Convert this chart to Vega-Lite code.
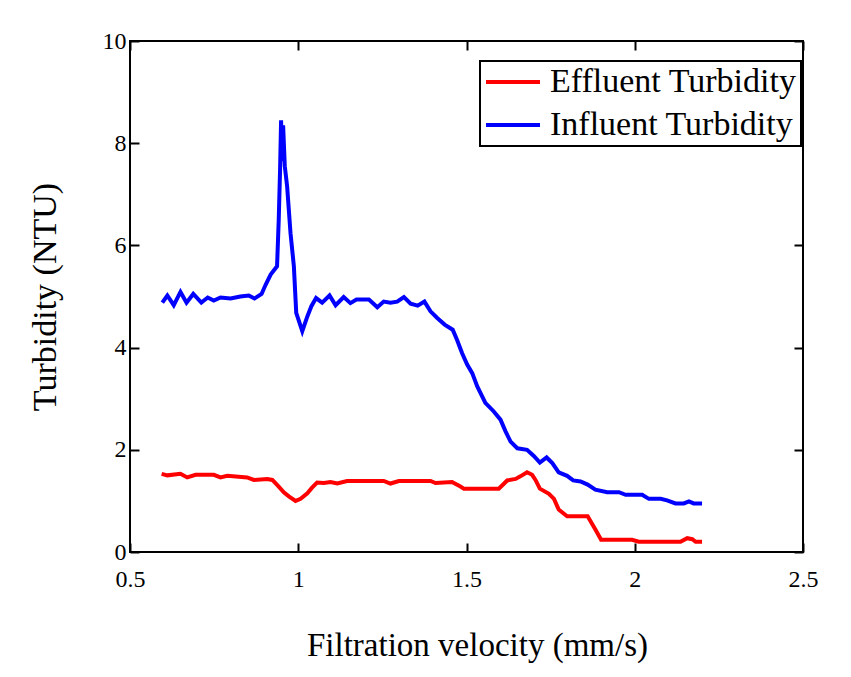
{
  "$schema": "https://vega.github.io/schema/vega-lite/v6.json",
  "width": 673,
  "height": 511,
  "autosize": {"type": "none"},
  "padding": {"left": 130, "top": 41, "right": 48, "bottom": 125},
  "background": "white",
  "config": {
    "view": {"stroke": "#000", "strokeWidth": 2},
    "font": "Liberation Serif",
    "axis": {
      "domain": false,
      "grid": false,
      "ticks": true,
      "tickSize": 9,
      "offset": -9,
      "tickColor": "#000",
      "tickWidth": 2,
      "labelFlush": false,
      "labelFont": "Liberation Serif",
      "labelFontSize": 24,
      "labelColor": "#000",
      "titleFont": "Liberation Serif",
      "titleFontSize": 34,
      "titleFontWeight": "normal",
      "titleColor": "#000"
    },
    "legend": {
      "strokeColor": "#000",
      "strokeWidth": 2,
      "fillColor": "white"
    }
  },
  "data": {
    "values": [
      {"s": "Influent Turbidity", "v": 0.596, "t": 4.88},
      {"s": "Influent Turbidity", "v": 0.611, "t": 5.02},
      {"s": "Influent Turbidity", "v": 0.630, "t": 4.83},
      {"s": "Influent Turbidity", "v": 0.650, "t": 5.09},
      {"s": "Influent Turbidity", "v": 0.668, "t": 4.88},
      {"s": "Influent Turbidity", "v": 0.688, "t": 5.05},
      {"s": "Influent Turbidity", "v": 0.712, "t": 4.88},
      {"s": "Influent Turbidity", "v": 0.731, "t": 4.98},
      {"s": "Influent Turbidity", "v": 0.749, "t": 4.92},
      {"s": "Influent Turbidity", "v": 0.769, "t": 4.98},
      {"s": "Influent Turbidity", "v": 0.799, "t": 4.96},
      {"s": "Influent Turbidity", "v": 0.828, "t": 5.00},
      {"s": "Influent Turbidity", "v": 0.853, "t": 5.02},
      {"s": "Influent Turbidity", "v": 0.870, "t": 4.96},
      {"s": "Influent Turbidity", "v": 0.891, "t": 5.05},
      {"s": "Influent Turbidity", "v": 0.903, "t": 5.23},
      {"s": "Influent Turbidity", "v": 0.918, "t": 5.43},
      {"s": "Influent Turbidity", "v": 0.937, "t": 5.59},
      {"s": "Influent Turbidity", "v": 0.942, "t": 6.50},
      {"s": "Influent Turbidity", "v": 0.946, "t": 7.48},
      {"s": "Influent Turbidity", "v": 0.949, "t": 8.45},
      {"s": "Influent Turbidity", "v": 0.952, "t": 7.65},
      {"s": "Influent Turbidity", "v": 0.955, "t": 8.35},
      {"s": "Influent Turbidity", "v": 0.960, "t": 7.55},
      {"s": "Influent Turbidity", "v": 0.967, "t": 7.15},
      {"s": "Influent Turbidity", "v": 0.977, "t": 6.24},
      {"s": "Influent Turbidity", "v": 0.987, "t": 5.59},
      {"s": "Influent Turbidity", "v": 0.994, "t": 4.68},
      {"s": "Influent Turbidity", "v": 1.012, "t": 4.32},
      {"s": "Influent Turbidity", "v": 1.027, "t": 4.61},
      {"s": "Influent Turbidity", "v": 1.039, "t": 4.81},
      {"s": "Influent Turbidity", "v": 1.053, "t": 4.97},
      {"s": "Influent Turbidity", "v": 1.071, "t": 4.88},
      {"s": "Influent Turbidity", "v": 1.093, "t": 5.02},
      {"s": "Influent Turbidity", "v": 1.111, "t": 4.83},
      {"s": "Influent Turbidity", "v": 1.135, "t": 4.99},
      {"s": "Influent Turbidity", "v": 1.155, "t": 4.87},
      {"s": "Influent Turbidity", "v": 1.173, "t": 4.94},
      {"s": "Influent Turbidity", "v": 1.210, "t": 4.94},
      {"s": "Influent Turbidity", "v": 1.235, "t": 4.79},
      {"s": "Influent Turbidity", "v": 1.254, "t": 4.90},
      {"s": "Influent Turbidity", "v": 1.274, "t": 4.88},
      {"s": "Influent Turbidity", "v": 1.294, "t": 4.90},
      {"s": "Influent Turbidity", "v": 1.314, "t": 4.99},
      {"s": "Influent Turbidity", "v": 1.334, "t": 4.86},
      {"s": "Influent Turbidity", "v": 1.355, "t": 4.82},
      {"s": "Influent Turbidity", "v": 1.375, "t": 4.90},
      {"s": "Influent Turbidity", "v": 1.393, "t": 4.71},
      {"s": "Influent Turbidity", "v": 1.413, "t": 4.58},
      {"s": "Influent Turbidity", "v": 1.435, "t": 4.45},
      {"s": "Influent Turbidity", "v": 1.459, "t": 4.35},
      {"s": "Influent Turbidity", "v": 1.472, "t": 4.15},
      {"s": "Influent Turbidity", "v": 1.487, "t": 3.89},
      {"s": "Influent Turbidity", "v": 1.502, "t": 3.67},
      {"s": "Influent Turbidity", "v": 1.517, "t": 3.50},
      {"s": "Influent Turbidity", "v": 1.532, "t": 3.24},
      {"s": "Influent Turbidity", "v": 1.556, "t": 2.92},
      {"s": "Influent Turbidity", "v": 1.581, "t": 2.75},
      {"s": "Influent Turbidity", "v": 1.601, "t": 2.59},
      {"s": "Influent Turbidity", "v": 1.616, "t": 2.36},
      {"s": "Influent Turbidity", "v": 1.631, "t": 2.16},
      {"s": "Influent Turbidity", "v": 1.651, "t": 2.03},
      {"s": "Influent Turbidity", "v": 1.680, "t": 2.00},
      {"s": "Influent Turbidity", "v": 1.700, "t": 1.88},
      {"s": "Influent Turbidity", "v": 1.718, "t": 1.75},
      {"s": "Influent Turbidity", "v": 1.738, "t": 1.85},
      {"s": "Influent Turbidity", "v": 1.755, "t": 1.74},
      {"s": "Influent Turbidity", "v": 1.774, "t": 1.56},
      {"s": "Influent Turbidity", "v": 1.799, "t": 1.49},
      {"s": "Influent Turbidity", "v": 1.817, "t": 1.40},
      {"s": "Influent Turbidity", "v": 1.839, "t": 1.38},
      {"s": "Influent Turbidity", "v": 1.860, "t": 1.32},
      {"s": "Influent Turbidity", "v": 1.883, "t": 1.22},
      {"s": "Influent Turbidity", "v": 1.918, "t": 1.17},
      {"s": "Influent Turbidity", "v": 1.953, "t": 1.17},
      {"s": "Influent Turbidity", "v": 1.973, "t": 1.12},
      {"s": "Influent Turbidity", "v": 2.022, "t": 1.12},
      {"s": "Influent Turbidity", "v": 2.042, "t": 1.04},
      {"s": "Influent Turbidity", "v": 2.077, "t": 1.04},
      {"s": "Influent Turbidity", "v": 2.096, "t": 1.01},
      {"s": "Influent Turbidity", "v": 2.121, "t": 0.95},
      {"s": "Influent Turbidity", "v": 2.146, "t": 0.95},
      {"s": "Influent Turbidity", "v": 2.161, "t": 0.99},
      {"s": "Influent Turbidity", "v": 2.175, "t": 0.95},
      {"s": "Influent Turbidity", "v": 2.200, "t": 0.95},
      {"s": "Effluent Turbidity", "v": 0.594, "t": 1.53},
      {"s": "Effluent Turbidity", "v": 0.611, "t": 1.50},
      {"s": "Effluent Turbidity", "v": 0.650, "t": 1.53},
      {"s": "Effluent Turbidity", "v": 0.670, "t": 1.46},
      {"s": "Effluent Turbidity", "v": 0.695, "t": 1.51},
      {"s": "Effluent Turbidity", "v": 0.749, "t": 1.51},
      {"s": "Effluent Turbidity", "v": 0.769, "t": 1.46},
      {"s": "Effluent Turbidity", "v": 0.789, "t": 1.49},
      {"s": "Effluent Turbidity", "v": 0.848, "t": 1.46},
      {"s": "Effluent Turbidity", "v": 0.868, "t": 1.41},
      {"s": "Effluent Turbidity", "v": 0.908, "t": 1.43},
      {"s": "Effluent Turbidity", "v": 0.923, "t": 1.41},
      {"s": "Effluent Turbidity", "v": 0.942, "t": 1.28},
      {"s": "Effluent Turbidity", "v": 0.957, "t": 1.17},
      {"s": "Effluent Turbidity", "v": 0.972, "t": 1.09},
      {"s": "Effluent Turbidity", "v": 0.992, "t": 1.00},
      {"s": "Effluent Turbidity", "v": 1.007, "t": 1.04},
      {"s": "Effluent Turbidity", "v": 1.027, "t": 1.15},
      {"s": "Effluent Turbidity", "v": 1.041, "t": 1.26},
      {"s": "Effluent Turbidity", "v": 1.056, "t": 1.36},
      {"s": "Effluent Turbidity", "v": 1.076, "t": 1.35},
      {"s": "Effluent Turbidity", "v": 1.096, "t": 1.37},
      {"s": "Effluent Turbidity", "v": 1.116, "t": 1.34},
      {"s": "Effluent Turbidity", "v": 1.145, "t": 1.39},
      {"s": "Effluent Turbidity", "v": 1.254, "t": 1.39},
      {"s": "Effluent Turbidity", "v": 1.274, "t": 1.34},
      {"s": "Effluent Turbidity", "v": 1.299, "t": 1.39},
      {"s": "Effluent Turbidity", "v": 1.393, "t": 1.39},
      {"s": "Effluent Turbidity", "v": 1.408, "t": 1.35},
      {"s": "Effluent Turbidity", "v": 1.457, "t": 1.37},
      {"s": "Effluent Turbidity", "v": 1.482, "t": 1.28},
      {"s": "Effluent Turbidity", "v": 1.492, "t": 1.24},
      {"s": "Effluent Turbidity", "v": 1.596, "t": 1.24},
      {"s": "Effluent Turbidity", "v": 1.621, "t": 1.40},
      {"s": "Effluent Turbidity", "v": 1.646, "t": 1.43},
      {"s": "Effluent Turbidity", "v": 1.660, "t": 1.48},
      {"s": "Effluent Turbidity", "v": 1.680, "t": 1.56},
      {"s": "Effluent Turbidity", "v": 1.695, "t": 1.51},
      {"s": "Effluent Turbidity", "v": 1.705, "t": 1.41},
      {"s": "Effluent Turbidity", "v": 1.718, "t": 1.24},
      {"s": "Effluent Turbidity", "v": 1.745, "t": 1.14},
      {"s": "Effluent Turbidity", "v": 1.760, "t": 1.04},
      {"s": "Effluent Turbidity", "v": 1.774, "t": 0.83},
      {"s": "Effluent Turbidity", "v": 1.799, "t": 0.70},
      {"s": "Effluent Turbidity", "v": 1.860, "t": 0.70},
      {"s": "Effluent Turbidity", "v": 1.883, "t": 0.44},
      {"s": "Effluent Turbidity", "v": 1.900, "t": 0.24},
      {"s": "Effluent Turbidity", "v": 1.992, "t": 0.24},
      {"s": "Effluent Turbidity", "v": 2.012, "t": 0.20},
      {"s": "Effluent Turbidity", "v": 2.136, "t": 0.20},
      {"s": "Effluent Turbidity", "v": 2.156, "t": 0.27},
      {"s": "Effluent Turbidity", "v": 2.171, "t": 0.25},
      {"s": "Effluent Turbidity", "v": 2.181, "t": 0.20},
      {"s": "Effluent Turbidity", "v": 2.200, "t": 0.20}
    ]
  },
  "layer": [
    {
      "mark": {"type": "line", "strokeWidth": 4},
      "encoding": {
        "x": {
          "field": "v", "type": "quantitative",
          "scale": {"domain": [0.5, 2.5], "nice": false, "zero": false},
          "axis": {"orient": "bottom", "values": [0.5, 1, 1.5, 2, 2.5], "format": "~g", "labelPadding": 15, "title": "Filtration velocity (mm/s)", "titleFontSize": 33, "titlePadding": 38, "titleX": 347, "titleAlign": "center"}
        },
        "y": {
          "field": "t", "type": "quantitative",
          "scale": {"domain": [0, 10], "nice": false},
          "axis": {"orient": "left", "values": [0, 2, 4, 6, 8, 10], "labelPadding": 4, "title": "Turbidity (NTU)", "titlePadding": 40}
        },
        "color": {
          "field": "s", "type": "nominal",
          "scale": {"domain": ["Effluent Turbidity", "Influent Turbidity"], "range": ["#ff0000", "#0000ff"]},
          "legend": {
            "title": null, "orient": "none", "legendX": 350, "legendY": 20,
            "symbolType": "M-1,0L2.6,0", "symbolSize": 900, "symbolStrokeWidth": 4,
            "labelFont": "Liberation Serif", "labelFontSize": 34, "labelColor": "#000", "labelLimit": 400,
            "labelOffset": 32, "padding": 4, "rowPadding": 9
          }
        }
      }
    },
    {
      "mark": {"type": "line", "opacity": 0},
      "encoding": {
        "x": {"field": "v", "type": "quantitative", "axis": {"orient": "top", "values": [0.5, 1, 1.5, 2, 2.5], "labels": false, "title": null}},
        "y": {"field": "t", "type": "quantitative", "axis": {"orient": "right", "values": [0, 2, 4, 6, 8, 10], "labels": false, "title": null}},
        "detail": {"field": "s", "type": "nominal"}
      }
    }
  ],
  "resolve": {"axis": {"x": "independent", "y": "independent"}}
}
